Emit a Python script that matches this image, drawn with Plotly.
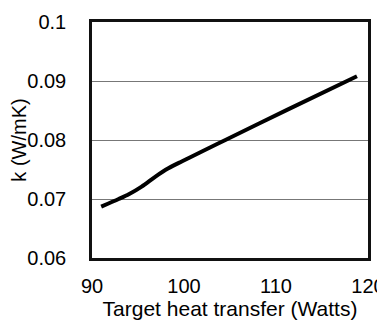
import plotly.graph_objects as go

heat_transfer = [91.0, 92.9, 94.0, 95.4, 96.9, 98.3, 99.8, 102.0, 104.5, 111.2, 118.8]
k_values = [0.0687, 0.0700, 0.0708, 0.0721, 0.0738, 0.0752, 0.0764, 0.0781, 0.0800, 0.0851, 0.0908]

x_ticks = [90, 100, 110, 120]
y_ticks = [0.06, 0.07, 0.08, 0.09, 0.1]
y_labels = ["0.06", "0.07", "0.08", "0.09", "0.1"]

fig = go.Figure(go.Scatter(
    x=heat_transfer, y=k_values, mode="lines",
    line=dict(color="black", width=4, shape="spline", smoothing=0.8),
    showlegend=False, hoverinfo="skip"))

font = "Liberation Sans, Arial, sans-serif"
# page body has an 8px default margin, so the figure is sized to fit the window
fig.update_layout(
    width=377, height=314,
    margin=dict(l=84, r=17, t=14, b=64),
    paper_bgcolor="white", plot_bgcolor="white",
    font=dict(family=font, color="black", size=20),
)
fig.update_xaxes(
    range=[90, 120], tickvals=x_ticks, showgrid=False, zeroline=False,
    showline=True, mirror=True, linecolor="#111", linewidth=2.5,
    ticks="", ticklabelstandoff=8, tickfont=dict(size=20), automargin=False,
    title=dict(text="Target heat transfer (Watts)", font=dict(size=21), standoff=4),
)
fig.update_yaxes(
    range=[0.06, 0.1], tickvals=y_ticks, ticktext=y_labels, showgrid=True,
    gridcolor="#777", gridwidth=1.3, zeroline=False,
    showline=True, mirror=True, linecolor="#111", linewidth=2.5,
    ticks="", ticklabelstandoff=19, tickfont=dict(size=20), automargin=False,
    title=dict(text="k (W/mK)", font=dict(size=20), standoff=6),
)
fig.write_html("out.html")
